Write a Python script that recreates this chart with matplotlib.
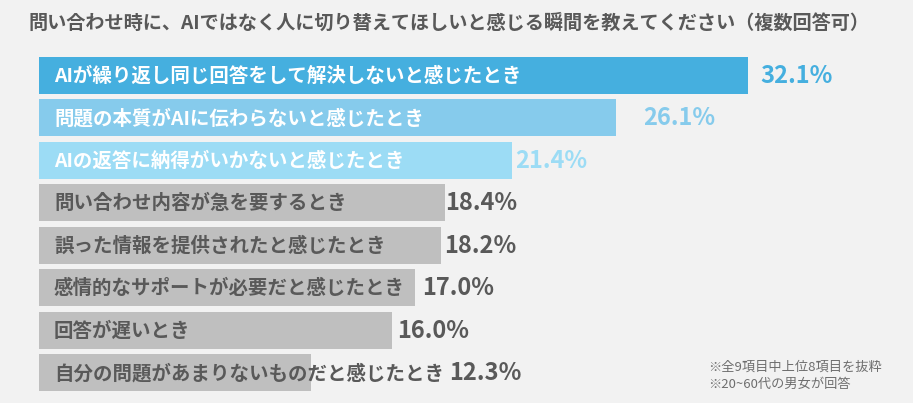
import matplotlib
matplotlib.use("Agg")
import matplotlib.pyplot as plt

plt.rcParams['font.family'] = ['Noto Sans CJK JP', 'DejaVu Sans']

title = "問い合わせ時に、AIではなく人に切り替えてほしいと感じる瞬間を教えてください（複数回答可）"
categories = [
    "AIが繰り返し同じ回答をして解決しないと感じたとき",
    "問題の本質がAIに伝わらないと感じたとき",
    "AIの返答に納得がいかないと感じたとき",
    "問い合わせ内容が急を要するとき",
    "誤った情報を提供されたと感じたとき",
    "感情的なサポートが必要だと感じたとき",
    "回答が遅いとき",
    "自分の問題があまりないものだと感じたとき",
]
values = [32.1, 26.1, 21.4, 18.4, 18.2, 17.0, 16.0, 12.3]
notes = ["※全9項目中上位8項目を抜粋", "※20~60代の男女が回答"]

# styles
bar_colors = ["#45AFDF", "#86CBEC", "#9CDCF5"] + ["#BFBFBF"] * 5
label_colors = ["white"] * 3 + ["#595959"] * 5
value_colors = ["#45AFDF", "#86CBEC", "#9CDCF5"] + ["#595959"] * 5
value_gap_px = [12, 28, 3, 0, 3, 8, 5, 3]
BG = "#F2F2F2"

W, H = 913, 403
fig = plt.figure(figsize=(W / 100, H / 100), dpi=100, facecolor=BG)
left = 39 / W
ax = fig.add_axes([left, 0, 1 - left, 1])
ax.set_facecolor(BG)
px_per_unit = 22.09
ax.set_xlim(0, (W - 39) / px_per_unit)
pitch = 42.5
ax.set_ylim((H - 75) / pitch, -75 / pitch)
ax.axis("off")

ypos = list(range(len(values)))
ax.barh(ypos, values, height=37 / pitch, color=bar_colors, edgecolor="none")

label_texts = []
for i, (cat, v) in enumerate(zip(categories, values)):
    t = ax.text(0.68, i + 0.03, cat, ha="left", va="center", fontsize=14,
                fontweight="bold", color=label_colors[i])
    label_texts.append(t)

# value labels go after the bar, or after the text when it sticks out
fig.canvas.draw()
renderer = fig.canvas.get_renderer()
inv = ax.transData.inverted()
for i, v in enumerate(values):
    bb = label_texts[i].get_window_extent(renderer)
    text_end = inv.transform((bb.x1, 0))[0]
    anchor = max(v, text_end + 2 / px_per_unit)
    ax.text(anchor + value_gap_px[i] / px_per_unit, i + 0.02, f"{v:.1f}%",
            ha="left", va="center", fontsize=17, fontweight="bold",
            color=value_colors[i])

fig.text(28 / W, 1 - 23 / H, title, ha="left", va="center", fontsize=13.8,
         fontweight="bold", color="#595959")
fig.text(708 / W, 1 - 367 / H, notes[0], ha="left", va="center",
         fontsize=9.5, color="#6E6E6E")
fig.text(708 / W, 1 - 384 / H, notes[1], ha="left", va="center",
         fontsize=9.5, color="#6E6E6E")

fig.savefig("out.png", dpi=100, facecolor=BG)
